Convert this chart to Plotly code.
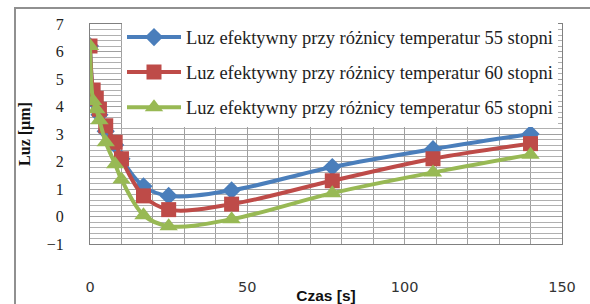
import plotly.graph_objects as go

czas = [0, 1, 2, 3, 5, 8, 10, 17, 25, 45, 77, 109, 140]
luz_55 = [6.2, 4.5, 4.1, 3.7, 3.1, 2.6, 2.1, 1.1, 0.75, 0.95, 1.8, 2.45, 3.0]
luz_60 = [6.2, 4.6, 4.3, 3.9, 3.3, 2.7, 2.1, 0.75, 0.25, 0.45, 1.3, 2.1, 2.65]
luz_65 = [6.2, 4.2, 3.9, 3.5, 2.7, 1.9, 1.35, 0.05, -0.35, -0.1, 0.85, 1.6, 2.25]

names = ["Luz efektywny przy różnicy temperatur 55 stopni",
         "Luz efektywny przy różnicy temperatur 60 stopni",
         "Luz efektywny przy różnicy temperatur 65 stopni"]
colors = ["#4a7ebb", "#be4b48", "#98b954"]
symbols = ["diamond", "square", "triangle-up"]
sizes = [14, 15, 16]

fig = go.Figure()
for i, ys in enumerate([luz_55, luz_60, luz_65]):
    fig.add_trace(go.Scatter(
        x=czas, y=ys, name=names[i], mode="lines+markers",
        line=dict(color=colors[i], width=4, shape="spline"),
        marker=dict(symbol=symbols[i], size=sizes[i], color=colors[i]),
        legendgroup=str(i),
    ))

W, H = 590, 304
L, R, T, B = 90, 28, 24, 60
pw, ph = W - L - R, H - T - B

fig.update_layout(
    width=W, height=H,
    margin=dict(l=L, r=R, t=T, b=B, autoexpand=False),
    paper_bgcolor="white", plot_bgcolor="white",
    showlegend=True,
    legend=dict(
        x=(122 - L) / pw, y=1.025, xanchor="left", yanchor="top",
        bgcolor="white", borderwidth=0,
        font=dict(family="Liberation Serif", size=18.5, color="#222"),
        itemwidth=54, tracegroupgap=8,
    ),
    xaxis=dict(
        range=[0, 150], dtick=50, showgrid=True, gridcolor="#a0a0a0", gridwidth=1,
        minor=dict(dtick=10, showgrid=True, gridcolor="#a0a0a0", gridwidth=1),
        showline=True, linecolor="#808080", mirror=True, zeroline=False,
        automargin=False,
        ticks="", ticklabelstandoff=30,
        tickfont=dict(family="DejaVu Sans", size=14.5, color="#333"),
        title=dict(text="<b>Czas [s]</b>", standoff=0,
                   font=dict(family="Liberation Sans", size=15.5, color="#111")),
    ),
    yaxis=dict(
        range=[-1, 7], dtick=1, showgrid=True, gridcolor="#a0a0a0", gridwidth=1,
        minor=dict(dtick=0.2, showgrid=True, gridcolor="#b0b0b0", gridwidth=1),
        showline=True, linecolor="#808080", mirror=True, zeroline=False,
        automargin=False,
        ticks="", ticklabelstandoff=22,
        tickfont=dict(family="Liberation Serif", size=16, color="#222"),
        title=dict(text="<b>Luz [µm]</b>", standoff=12,
                   font=dict(family="Liberation Serif", size=16, color="#111")),
    ),
)

# outer chart frame: top edge and left edge (thin filled strips)
fig.add_shape(type="rect", xref="paper", yref="paper", layer="above",
              xsizemode="pixel", xanchor=0, x0=14 - L, x1=W + 10 - L,
              ysizemode="pixel", yanchor=1, y0=T - 7, y1=T - 9,
              fillcolor="#909090", line=dict(width=0))
fig.add_shape(type="rect", xref="paper", yref="paper", layer="above",
              xsizemode="pixel", xanchor=0, x0=14 - L, x1=16 - L,
              ysizemode="pixel", yanchor=1, y0=T - 7, y1=-(H + 20),
              fillcolor="#909090", line=dict(width=0))

frame_js = (
    "document.body.style.margin='0';document.body.style.overflow='hidden';"
    "var d=document.createElement('div');"
    "d.style.cssText='position:absolute;left:14px;top:7px;width:2px;height:320px;"
    "background:#909090;z-index:5;pointer-events:none';"
    "document.body.appendChild(d);"
)

fig.write_html(
    "out.html",
    config={"displayModeBar": False},
    post_script=frame_js,
)
